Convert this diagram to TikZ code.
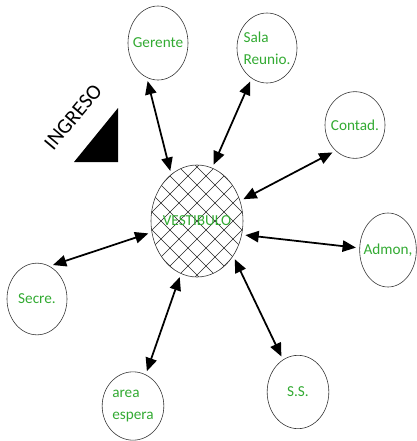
\documentclass[tikz,border=0pt]{standalone}
\usepackage{fontspec}
\setmainfont{Carlito}
\usepackage{tikz}
\usetikzlibrary{arrows.meta,shapes.geometric}
\definecolor{roomgreen}{RGB}{50,170,50}
\tikzset{
    x=0.03cm, y=-0.03cm,
    roomtext/.style={text=roomgreen, font=\fontsize{13}{18.5}\selectfont, align=left, inner sep=0pt},
    room/.style={ellipse, draw=black!80, line width=0.5pt, inner sep=0pt,
        minimum width=1.8cm, minimum height=2.15cm, label={[roomtext]center:#1}},
    hall/.style={room=#1, minimum width=2.76cm, minimum height=3.36cm},
    hatch/.style={line width=0.4pt, black!85},
    link/.style={{Triangle[length=0.4cm,width=0.34cm]}-{Triangle[length=0.4cm,width=0.34cm]},
        line width=1.5pt, shorten <=3pt, shorten >=3pt}
}
\begin{document}
\begin{tikzpicture}
    \useasboundingbox (0,0) rectangle (417,441);
    % hatching of the hall
    \begin{scope}
        \clip (197,221) ellipse [x radius=1.38cm, y radius=1.68cm];
        \foreach \k in {-7,...,7} {
            \draw[hatch] (197+\k*18-70,221+70) -- ++(140,-140);
            \draw[hatch] (197+\k*18-70,221-70) -- ++(140,140);
        }
    \end{scope}
    \node[hall=VESTIBULO] (vest) at (197,221) {};
    % rooms round the hall
    \node[room=Gerente, minimum height=2.22cm] (gerente) at (158,43) {};
    \node[room={Sala\\Reunio.}, minimum height=2.1cm] (sala) at (267,48) {};
    \node[room=Contad., minimum height=2cm] (contad) at (355,125) {};
    \node[room={Admon,}, minimum width=1.7cm, minimum height=2.22cm] (admon) at (388,250) {};
    \node[room=Secre.] (secre) at (37,299) {};
    \node[room={area\\espera}, minimum width=1.85cm, minimum height=2.05cm] (espera) at (133,406) {};
    \node[room=S.S., minimum width=1.85cm, minimum height=2.2cm] (ss) at (298,392) {};
    % entrance
    \fill (118,108) -- (118,162) -- (74,162) -- cycle;
    \node[rotate=50, inner sep=0pt, font=\fontsize{18}{20}\selectfont] (ingreso) at (73,117) {INGRESO};
    % connections
    \path (gerente.252) edge[link] (vest.119);
    \path (sala.243) edge[link] (vest.74);
    \path (contad.233) edge[link] (vest.25);
    \path (admon.176) edge[link] (vest.-17);
    \path (secre.69) edge[link] (vest.194);
    \path (espera.68) edge[link] (vest.253);
    \path (ss.115) edge[link] (vest.316);
\end{tikzpicture}
\end{document}
